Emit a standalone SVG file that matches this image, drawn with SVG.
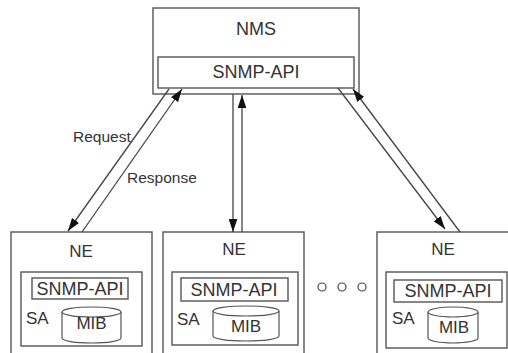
<svg xmlns="http://www.w3.org/2000/svg" width="508" height="353" viewBox="0 0 508 353">
<defs>
<marker id="ah" viewBox="0 0 12 8" refX="12" refY="4" markerWidth="13" markerHeight="9" markerUnits="userSpaceOnUse" orient="auto">
<path d="M0,0 L12,4 L0,8 z" fill="#111"/>
</marker>
<style>
.box{fill:#fff;stroke:#555;stroke-width:1.4}
.ln{fill:none;stroke:#444;stroke-width:1.3}
.t{font-family:"Liberation Sans",Arial,sans-serif;fill:#333}
.cyl{fill:#fff;stroke:#555;stroke-width:1.2}
</style>
</defs>
<rect width="508" height="353" fill="#fff"/>
<g id="nms">
<rect class="box" x="153" y="8" width="206" height="86"/>
<text class="t" x="256" y="35" font-size="18" text-anchor="middle">NMS</text>
<rect class="box" x="158" y="57" width="196" height="31"/>
<text class="t" x="256" y="78" font-size="18" text-anchor="middle">SNMP-API</text>
</g>
<g id="ne1">
<rect class="box" x="11" y="232" width="141" height="125"/>
<text class="t" x="81" y="257" font-size="17" text-anchor="middle">NE</text>
<rect class="box" x="21" y="272" width="121" height="74"/>
<rect class="box" x="32" y="278" width="96" height="21"/>
<text class="t" x="80" y="295" font-size="18" text-anchor="middle">SNMP-API</text>
<text class="t" x="26" y="324" font-size="17">SA</text>
<path class="cyl" d="M62,312 V338 A29.5,5 0 0 0 121,338 V312"/>
<ellipse class="cyl" cx="91.5" cy="312" rx="29.5" ry="5"/>
<text class="t" x="91.5" y="329" font-size="17" text-anchor="middle">MIB</text>
</g>
<g id="ne2">
<rect class="box" x="163" y="232" width="141" height="125"/>
<text class="t" x="234" y="255" font-size="17" text-anchor="middle">NE</text>
<rect class="box" x="172" y="272" width="126" height="73"/>
<rect class="box" x="181" y="278" width="107" height="23"/>
<text class="t" x="234" y="296" font-size="18" text-anchor="middle">SNMP-API</text>
<text class="t" x="177" y="325" font-size="17">SA</text>
<path class="cyl" d="M213,311 V336 A33,5 0 0 0 279,336 V311"/>
<ellipse class="cyl" cx="246" cy="311" rx="33" ry="5"/>
<text class="t" x="246" y="332" font-size="17" text-anchor="middle">MIB</text>
</g>
<g id="dots">
<circle cx="322" cy="287" r="4" fill="none" stroke="#444" stroke-width="1.2"/>
<circle cx="342" cy="287" r="4" fill="none" stroke="#444" stroke-width="1.2"/>
<circle cx="362" cy="287" r="4" fill="none" stroke="#444" stroke-width="1.2"/>
</g>
<g id="ne3">
<rect class="box" x="377" y="232" width="141" height="125"/>
<text class="t" x="443" y="255" font-size="17" text-anchor="middle">NE</text>
<rect class="box" x="386" y="272" width="121" height="76"/>
<rect class="box" x="394" y="280" width="108" height="22"/>
<text class="t" x="448" y="297" font-size="18" text-anchor="middle">SNMP-API</text>
<text class="t" x="392" y="324" font-size="17">SA</text>
<path class="cyl" d="M428,312 V338 A25,5 0 0 0 478,338 V312"/>
<ellipse class="cyl" cx="453" cy="312" rx="25" ry="5"/>
<text class="t" x="454" y="333" font-size="17" text-anchor="middle">MIB</text>
</g>
<g id="connectors">
<line class="ln" x1="169" y1="89" x2="68" y2="231" marker-end="url(#ah)"/>
<line class="ln" x1="82" y1="232" x2="182" y2="89" marker-end="url(#ah)"/>
<line class="ln" x1="233" y1="94" x2="233" y2="232" marker-end="url(#ah)"/>
<line class="ln" x1="242" y1="232" x2="242" y2="95" marker-end="url(#ah)"/>
<line class="ln" x1="338" y1="88" x2="445" y2="229" marker-end="url(#ah)"/>
<line class="ln" x1="460" y1="232" x2="353" y2="89" marker-end="url(#ah)"/>
<text class="t" x="73" y="142" font-size="15.5">Request</text>
<text class="t" x="127" y="183" font-size="15.5">Response</text>
</g>
</svg>
